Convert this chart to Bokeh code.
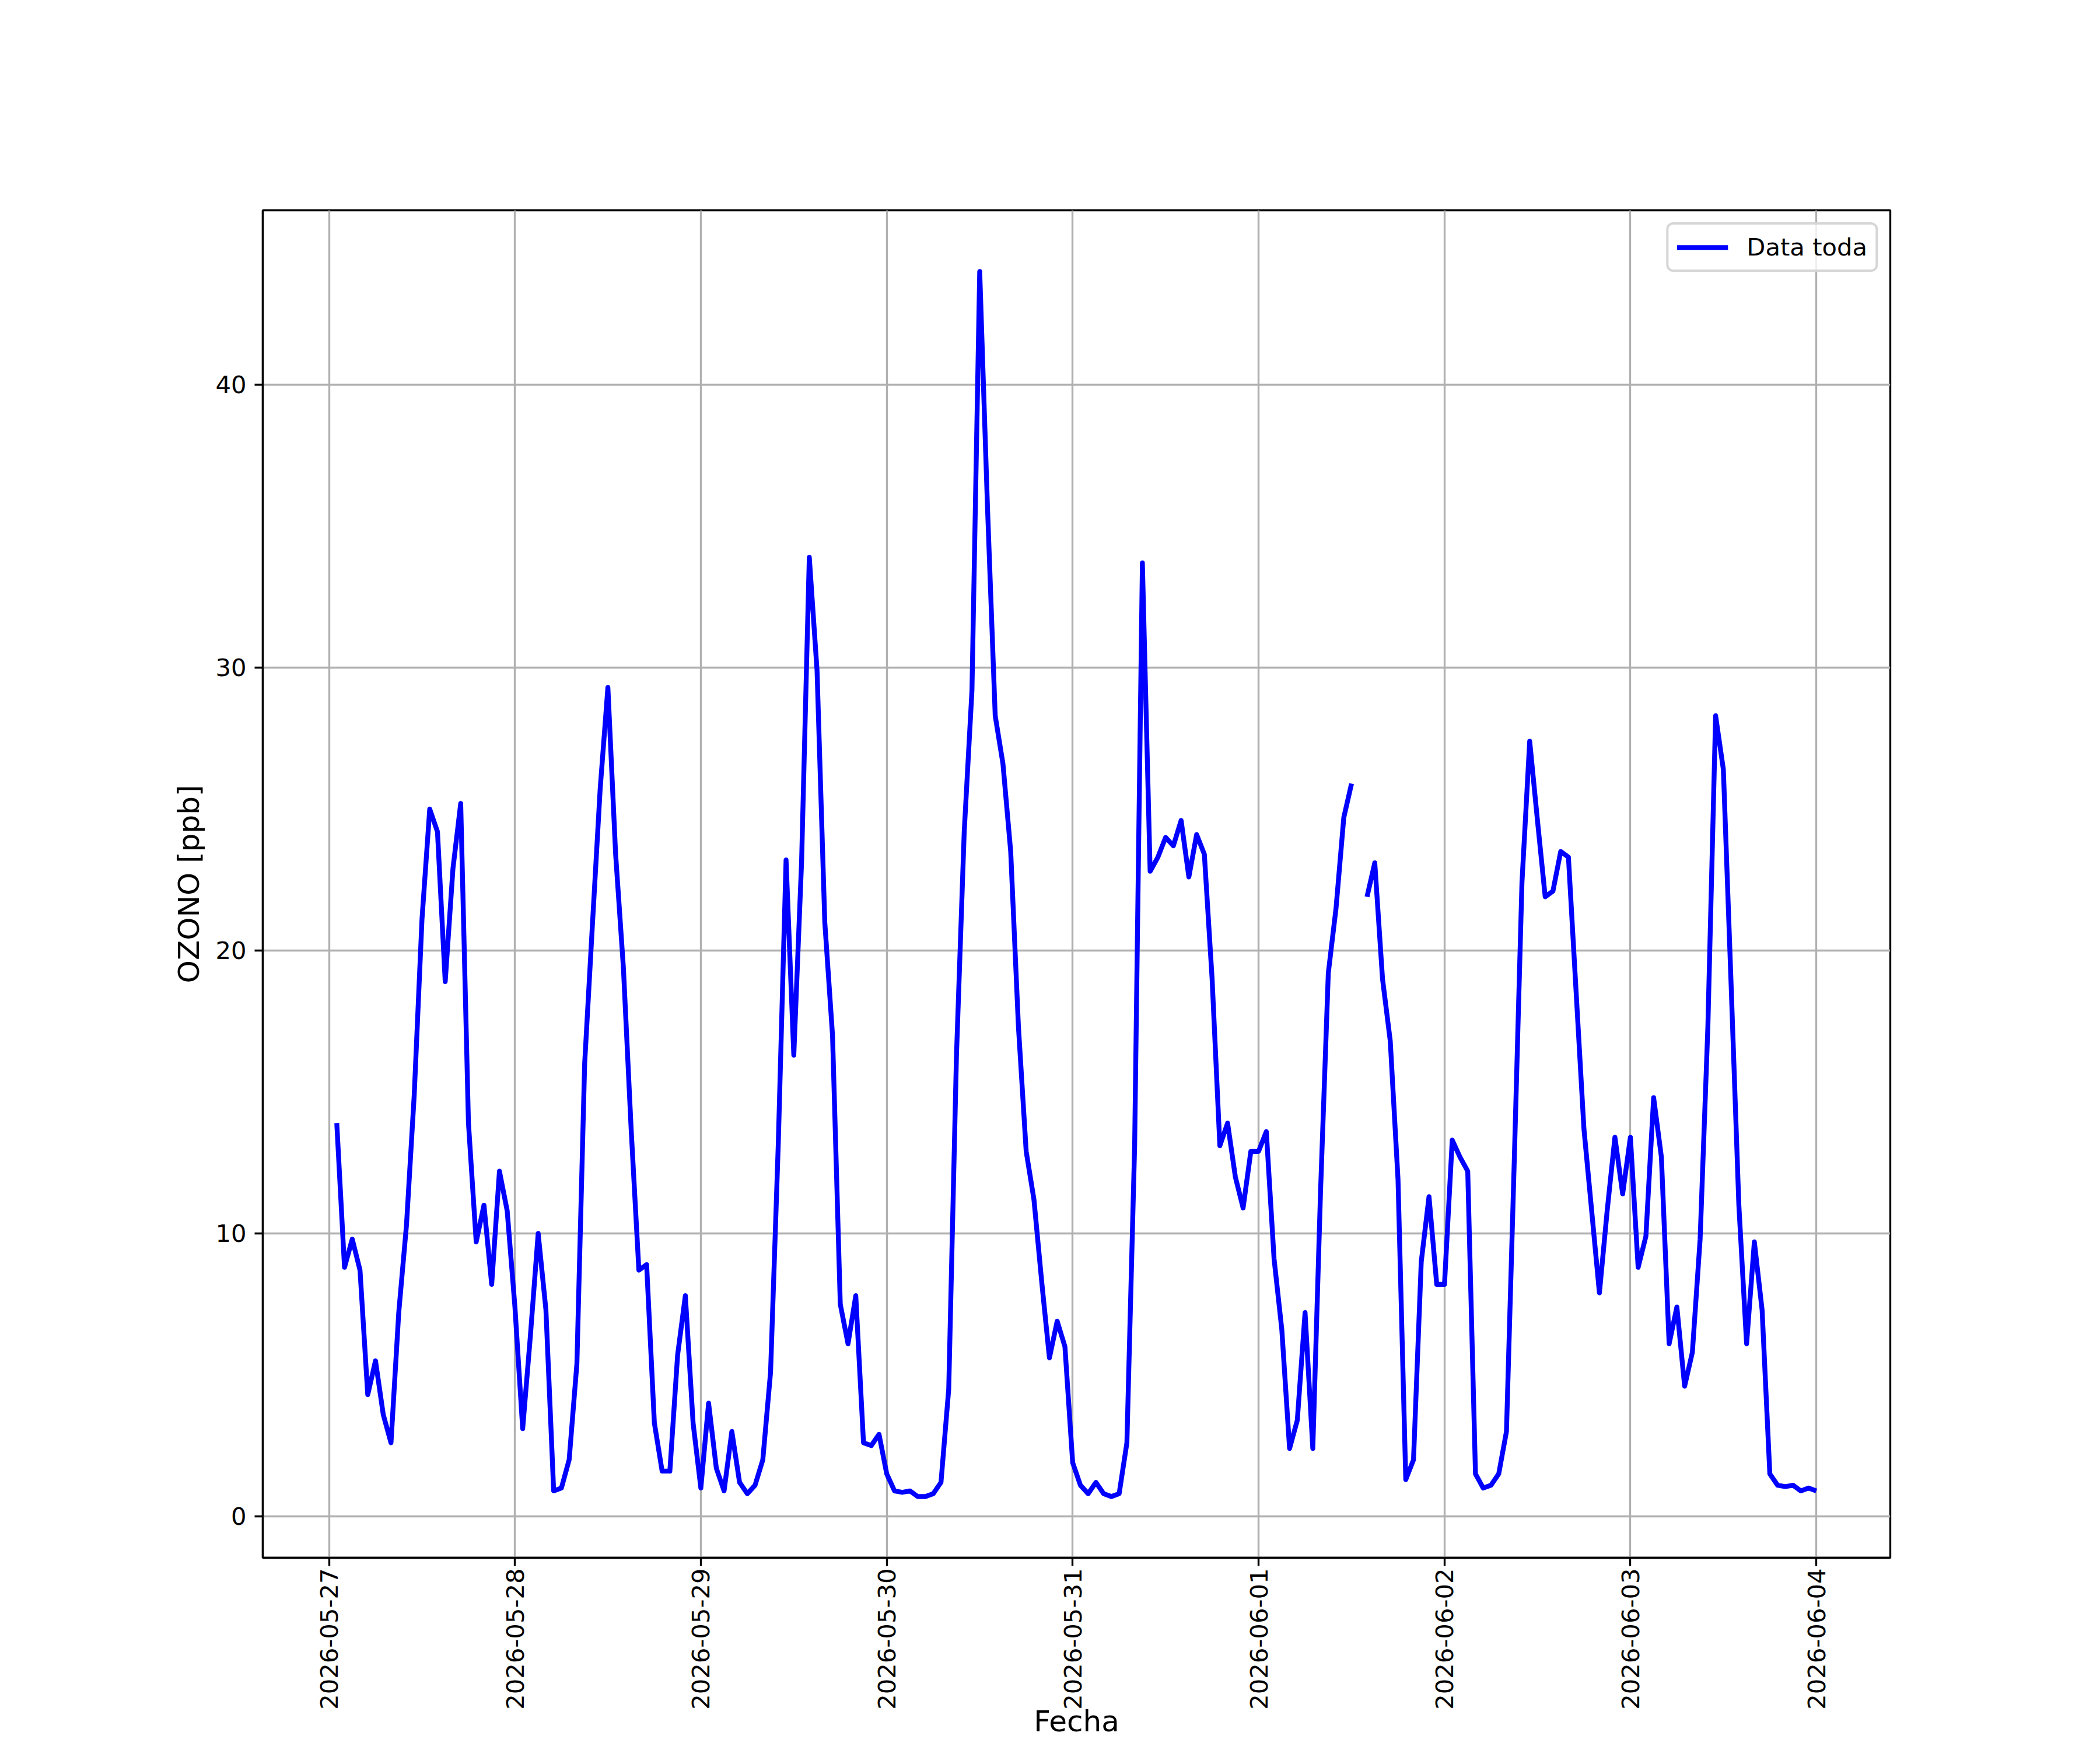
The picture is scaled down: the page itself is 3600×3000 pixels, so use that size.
import math
import numpy as np
import pandas as pd
from bokeh.plotting import figure
from bokeh.models import (Range1d, DaysTicker, DatetimeTickFormatter, SingleIntervalTicker,
                          ColumnDataSource)
from bokeh.embed import file_html
from bokeh.resources import INLINE

# ---------------- data (hourly OZONO readings, ppb) ----------------
start_time = "2026-05-27 01:00"

ozono_0527 = [13.9, 8.8, 9.8, 8.7, 4.3, 5.5, 3.6, 2.6, 7.2, 10.3, 14.9, 21.1,
              25.0, 24.2, 18.9, 22.9, 25.2, 13.9, 9.7, 11.0, 8.2, 12.2, 10.8, 7.4]
ozono_0528 = [3.1, 6.4, 10.0, 7.3, 0.9, 1.0, 2.0, 5.4, 16.0, 20.9, 25.7, 29.3,
              23.4, 19.4, 13.7, 8.7, 8.9, 3.3, 1.6, 1.6, 5.7, 7.8, 3.3, 1.0]
ozono_0529 = [4.0, 1.7, 0.9, 3.0, 1.2, 0.8, 1.1, 2.0, 5.1, 13.2, 23.2, 16.3,
              23.1, 33.9, 29.9, 21.0, 17.0, 7.5, 6.1, 7.8, 2.6, 2.5, 2.9, 1.5]
ozono_0530 = [0.9, 0.85, 0.9, 0.7, 0.7, 0.8, 1.2, 4.5, 16.3, 24.2, 29.2, 44.0,
              35.7, 28.3, 26.6, 23.5, 17.3, 12.9, 11.2, 8.3, 5.6, 6.9, 6.0, 1.9]
ozono_0531 = [1.1, 0.8, 1.2, 0.8, 0.7, 0.8, 2.6, 13.1, 33.7, 22.8, 23.3, 24.0,
              23.7, 24.6, 22.6, 24.1, 23.4, 19.0, 13.1, 13.9, 12.0, 10.9, 12.9, 12.9]
ozono_0601 = [13.6, 9.1, 6.6, 2.4, 3.4, 7.2, 2.4, 11.5, 19.2, 21.5, 24.7, 25.9,
              float("nan"), 21.9, 23.1, 19.0, 16.8, 11.9, 1.3, 2.0, 9.0, 11.3, 8.2, 8.2]
ozono_0602 = [13.3, 12.7, 12.2, 1.5, 1.0, 1.1, 1.5, 3.0, 12.5, 22.4, 27.4, 24.6,
              21.9, 22.1, 23.5, 23.3, 18.5, 13.7, 10.8, 7.9, 10.8, 13.4, 11.4, 13.4]
ozono_0603 = [8.8, 9.9, 14.8, 12.7, 6.1, 7.4, 4.6, 5.8, 9.8, 17.3, 28.3, 26.4,
              18.8, 11.0, 6.1, 9.7, 7.3, 1.5, 1.1, 1.05, 1.1, 0.9, 1.0, 0.9]

series_label = "Data toda"
x_label = "Fecha"
y_label = "OZONO [ppb]"

ozono = np.array(ozono_0527 + ozono_0528 + ozono_0529 + ozono_0530 +
                 ozono_0531 + ozono_0601 + ozono_0602 + ozono_0603, dtype=float)
fechas = pd.date_range(start_time, periods=len(ozono), freq="h")

# ---------------- ranges (matplotlib-like 5% margins) ----------------
t0, t1 = fechas[0], fechas[-1]
tpad = (t1 - t0) * 0.05
x0 = (t0 - tpad).to_pydatetime()
x1 = (t1 + tpad).to_pydatetime()
ymin, ymax = np.nanmin(ozono), np.nanmax(ozono)
ypad = (ymax - ymin) * 0.05

PT = 300 / 72.0
W, H = 3584, 2984
L, T = 450, 360
R = W - L - 2790
B = H - T - 2310

p = figure(width=W, height=H, x_axis_type="datetime", output_backend="svg",
           toolbar_location=None,
           x_range=Range1d(x0, x1), y_range=Range1d(ymin - ypad, ymax + ypad),
           min_border_left=L, min_border_right=R, min_border_top=T, min_border_bottom=B)
p.background_fill_color = "white"
p.border_fill_color = "white"
p.outline_line_color = "black"
p.outline_line_width = 0.8 * PT
p.outline_line_alpha = 1.0

src = ColumnDataSource(dict(fecha=fechas, ozono=ozono))
p.line("fecha", "ozono", source=src, line_color="#0000ff", line_width=2 * PT,
       line_join="round", legend_label=series_label)

# axes
p.xaxis.ticker = DaysTicker(days=list(range(1, 32)))
fmt_kw = dict(days="%Y-%m-%d", months="%Y-%m-%d", hours="%Y-%m-%d", years="%Y-%m-%d")
fmt = DatetimeTickFormatter(**fmt_kw)
if "strip_leading_zeros" in fmt.properties():
    fmt.strip_leading_zeros = False
p.xaxis.formatter = fmt
p.xaxis.major_label_orientation = math.pi / 2
p.yaxis.ticker = SingleIntervalTicker(interval=10, num_minor_ticks=0)

for ax in (p.xaxis[0], p.yaxis[0]):
    ax.axis_line_color = "black"
    ax.axis_line_width = 0.8 * PT
    ax.major_tick_line_color = "black"
    ax.major_tick_line_width = 0.8 * PT
    ax.major_tick_out = int(3.5 * PT)
    ax.major_tick_in = 0
    ax.minor_tick_line_color = None
    ax.major_label_text_font = "DejaVu Sans"
    ax.major_label_text_font_size = "41.7px"
    ax.major_label_text_color = "black"
    ax.axis_label_text_font = "DejaVu Sans"
    ax.axis_label_text_font_size = "50px"
    ax.axis_label_text_font_style = "normal"
    ax.axis_label_text_color = "black"

p.xaxis.axis_label = x_label
p.xaxis.major_label_standoff = 4
p.xaxis.axis_label_standoff = -12
p.yaxis.axis_label = y_label
p.yaxis.major_label_standoff = int(3.5 * PT)
p.yaxis.axis_label_standoff = 13

p.grid.grid_line_color = "#b0b0b0"
p.grid.grid_line_width = 0.8 * PT

# legend
leg = p.legend[0]
leg.location = "top_right"
leg.margin = 21
leg.padding = 14
leg.spacing = 0
leg.glyph_width = 88
leg.glyph_height = 44
leg.label_height = 44
leg.label_standoff = 32
leg.label_text_font = "DejaVu Sans"
leg.label_text_font_size = "41.7px"
leg.label_text_color = "black"
leg.border_line_color = "#cccccc"
leg.border_line_width = 4
leg.border_line_alpha = 0.8
leg.background_fill_color = "white"
leg.background_fill_alpha = 0.8
if "border_radius" in leg.properties():
    leg.border_radius = 12

open("out.html", "w").write(file_html(p, INLINE))
